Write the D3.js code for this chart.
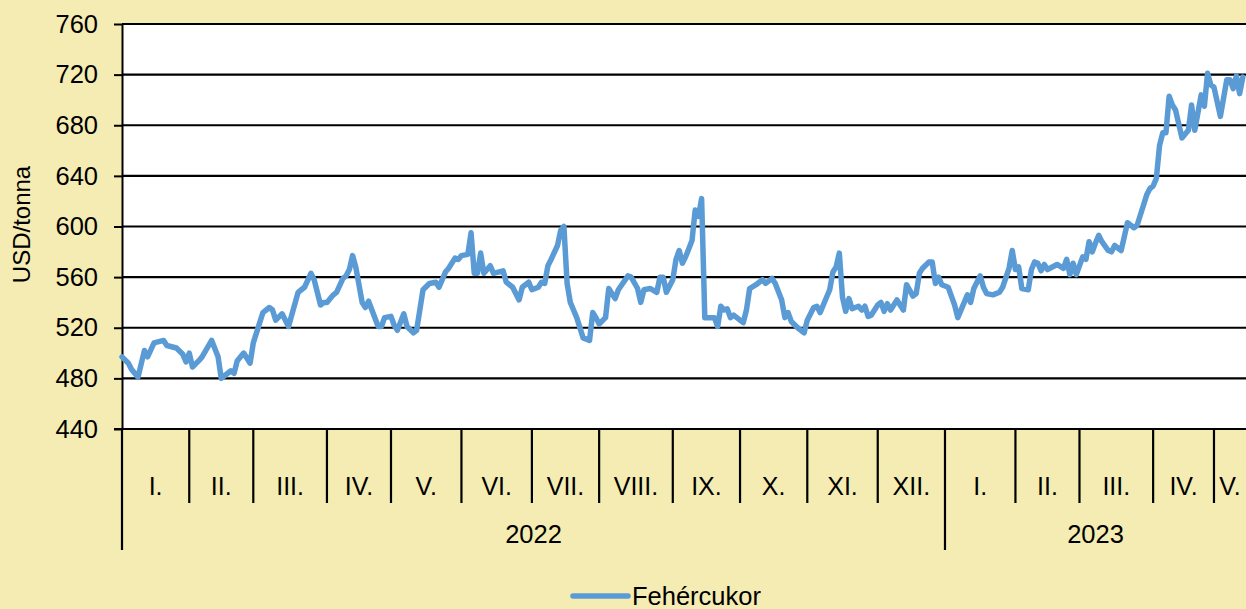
<!DOCTYPE html>
<html>
<head>
<meta charset="utf-8">
<script src="https://cdn.jsdelivr.net/npm/d3@7"></script>
<style>
  html, body { margin: 0; padding: 0; background: #f4ecb2; }
  svg { display: block; font-family: Arial, 'Liberation Sans', sans-serif; }
</style>
</head>
<body>
<svg id="chart"></svg>
<script>
'use strict';

// trading days per month (Jan 2022 .. May 2023)
const monthLabels = ['I.', 'II.', 'III.', 'IV.', 'V.', 'VI.', 'VII.', 'VIII.', 'IX.', 'X.', 'XI.', 'XII.',
  'I.', 'II.', 'III.', 'IV.', 'V.'];
const monthDays = [21, 20, 23, 20, 22, 22, 21, 23, 21, 21, 22, 21, 22, 20, 23, 19, 10];
const years = ['2022', '2023'];
const yearMonths = [12, 5];
const yTicks = [440, 480, 520, 560, 600, 640, 680, 720, 760];

// day index (trading day from 3 Jan 2022) and price, USD/tonna
const dayIdx = [
  0, 2, 3, 5, 7, 8, 10, 13, 14, 17, 19, 20, 21, 22, 24, 25, 28, 30, 31, 34,
  35, 36, 38, 40, 41, 44, 46, 47, 48, 50, 52, 55, 56, 57, 59, 60, 62, 63, 64, 66,
  67, 69, 70, 71, 72, 73, 75, 76, 77, 80, 81, 82, 84, 85, 86, 88, 89, 91, 92, 94,
  96, 98, 99, 101, 102, 104, 105, 106, 108, 109, 110, 111, 112, 113, 115, 116, 119, 120, 122, 124,
  125, 127, 128, 130, 131, 132, 133, 134, 136, 137, 138, 139, 140, 141, 142, 144, 146, 147, 148, 149,
  151, 152, 154, 155, 158, 159, 161, 162, 163, 165, 167, 168, 169, 170, 172, 173, 174, 175, 176, 178,
  179, 180, 181, 182, 185, 186, 187, 188, 189, 190, 191, 192, 194, 195, 196, 198, 200, 201, 203, 204,
  206, 207, 208, 209, 211, 213, 214, 216, 217, 218, 219, 221, 222, 223, 224, 225, 226, 227, 228, 230,
  231, 232, 233, 234, 236, 237, 238, 239, 240, 242, 244, 245, 247, 248, 249, 250, 252, 253, 254, 255,
  256, 258, 259, 260, 261, 264, 265, 266, 268, 269, 270, 272, 274, 275, 277, 278, 279, 280, 281, 283,
  284, 285, 286, 287, 288, 289, 292, 294, 295, 296, 297, 298, 300, 301, 302, 303, 304, 305, 306, 308,
  309, 310, 312, 314, 316, 317, 319, 320, 321, 322, 323, 324, 325, 326, 327, 328, 329, 331, 333, 334,
  335, 337, 338, 339, 340, 341, 343, 345, 346, 347, 348, 349, 350
];
const price = [
  497, 492, 487, 481, 502, 497, 508, 510, 506, 504, 499, 493, 500, 489, 494, 497, 510, 497, 480, 486,
  484, 494, 500, 492, 508, 532, 536, 534, 526, 531, 521, 548, 550, 552, 563, 558, 538, 540, 540, 546,
  548, 559, 561, 566, 577, 568, 540, 536, 541, 521, 521, 528, 529, 522, 518, 531, 521, 516, 518, 550,
  555, 556, 552, 564, 567, 575, 574, 577, 578, 595, 563, 563, 579, 563, 569, 563, 565, 556, 552, 542,
  552, 556, 550, 552, 556, 555, 569, 574, 585, 597, 600, 555, 540, 534, 528, 512, 510, 532, 528, 523,
  528, 551, 543, 550, 561, 560, 551, 540, 550, 551, 548, 560, 560, 548, 558, 574, 581, 571, 576, 589,
  613, 608, 622, 528, 528, 521, 537, 534, 535, 528, 530, 528, 524, 534, 551, 554, 558, 555, 559, 555,
  542, 528, 532, 525, 520, 516, 526, 536, 537, 532, 538, 550, 564, 568, 579, 544, 533, 543, 535, 537,
  534, 537, 529, 530, 538, 540, 533, 539, 534, 542, 534, 554, 545, 547, 563, 567, 572, 572, 555, 560,
  554, 552, 545, 538, 528, 546, 540, 551, 561, 552, 547, 546, 548, 552, 567, 581, 566, 568, 551, 550,
  566, 572, 571, 565, 570, 566, 570, 567, 574, 562, 571, 562, 576, 574, 588, 580, 587, 593, 588, 581,
  580, 585, 581, 603, 599, 601, 617, 625, 630, 632, 638, 664, 674, 674, 703, 696, 692, 670, 676, 696,
  676, 704, 695, 721, 712, 710, 687, 716, 716, 709, 719, 705, 718
];

const W = 1246, H = 609;
const margin = { top: 24, right: 0, bottom: 180, left: 122 };
const plotBottom = H - margin.bottom;

const svg = d3.select('#chart').attr('width', W).attr('height', H);

const totalDays = d3.sum(monthDays);
const x = d3.scaleLinear().domain([0, totalDays]).range([margin.left, W - margin.right]);
const y = d3.scaleLinear().domain([440, 760]).range([plotBottom, margin.top]);

// plot background
svg.append('rect')
  .attr('x', margin.left)
  .attr('y', margin.top)
  .attr('width', W - margin.right - margin.left)
  .attr('height', plotBottom - margin.top)
  .attr('fill', '#fff');

// gridlines
svg.append('g')
  .selectAll('line')
  .data(yTicks)
  .enter()
  .append('line')
  .attr('x1', margin.left)
  .attr('x2', W - margin.right)
  .attr('y1', (d) => y(d))
  .attr('y2', (d) => y(d))
  .attr('stroke', '#000')
  .attr('stroke-width', 2.2);

// Y-Axis
svg.append('g')
  .attr('transform', `translate(${margin.left},0)`)
  .call(d3.axisLeft(y).tickValues(yTicks).tickSize(8).tickSizeOuter(0).tickPadding(16))
  .call((g) => g.select('.domain').attr('stroke', '#000').attr('stroke-width', 2))
  .call((g) => g.selectAll('.tick line').attr('stroke', '#000').attr('stroke-width', 2))
  .call((g) =>
    g.selectAll('.tick text')
      .attr('fill', '#000')
      .style('font-size', '25.5px')
      .style('font-family', 'Arial, "Liberation Sans", sans-serif')
  );

svg.append('text')
  .attr('transform', `translate(30,${(margin.top + plotBottom) / 2 - 2}) rotate(-90)`)
  .attr('text-anchor', 'middle')
  .style('font-size', '24px')
  .text('USD/tonna');

// X-Axis: month and year categories
const bounds = [0].concat(Array.from(d3.cumsum(monthDays)));
const yearStarts = [0].concat(Array.from(d3.cumsum(yearMonths))).map((m) => bounds[m]);
const xAxis = svg.append('g');

xAxis.append('line')
  .attr('x1', margin.left - 8)
  .attr('x2', W - margin.right)
  .attr('y1', plotBottom)
  .attr('y2', plotBottom)
  .attr('stroke', '#000')
  .attr('stroke-width', 2.2);

xAxis.selectAll('.month-tick')
  .data(bounds.slice(0, -1))
  .enter()
  .append('line')
  .attr('class', 'month-tick')
  .attr('x1', (d) => x(d))
  .attr('x2', (d) => x(d))
  .attr('y1', plotBottom)
  .attr('y2', (d) => (yearStarts.includes(d) ? 550 : 503))
  .attr('stroke', '#000')
  .attr('stroke-width', 2.2);

xAxis.selectAll('.month-label')
  .data(monthLabels)
  .enter()
  .append('text')
  .attr('class', 'month-label')
  .attr('x', (d, i) => x((bounds[i] + bounds[i + 1]) / 2))
  .attr('y', 495)
  .attr('text-anchor', 'middle')
  .style('font-size', '25px')
  .text((d) => d);

xAxis.selectAll('.year-label')
  .data(years)
  .enter()
  .append('text')
  .attr('class', 'year-label')
  .attr('x', (d, i) => x((yearStarts[i] + yearStarts[i + 1]) / 2))
  .attr('y', 543)
  .attr('text-anchor', 'middle')
  .style('font-size', '25.5px')
  .text((d) => d);

// series
const series = dayIdx.map((d, i) => ({ day: d, value: price[i] }));
const line = d3.line()
  .x((d) => x(d.day))
  .y((d) => y(d.value));

svg.append('path')
  .datum(series)
  .attr('fill', 'none')
  .attr('stroke', '#5b9bd5')
  .attr('stroke-width', 5.5)
  .attr('stroke-linejoin', 'round')
  .attr('stroke-linecap', 'round')
  .attr('d', line);

// legend
const legend = svg.append('g').attr('transform', 'translate(573,596)');
legend.append('line')
  .attr('x1', 0)
  .attr('x2', 55)
  .attr('stroke', '#5b9bd5')
  .attr('stroke-width', 5.5)
  .attr('stroke-linecap', 'round');
legend.append('text')
  .attr('x', 59)
  .attr('y', 9)
  .style('font-size', '25.5px')
  .text('Fehércukor');
</script>
</body>
</html>
